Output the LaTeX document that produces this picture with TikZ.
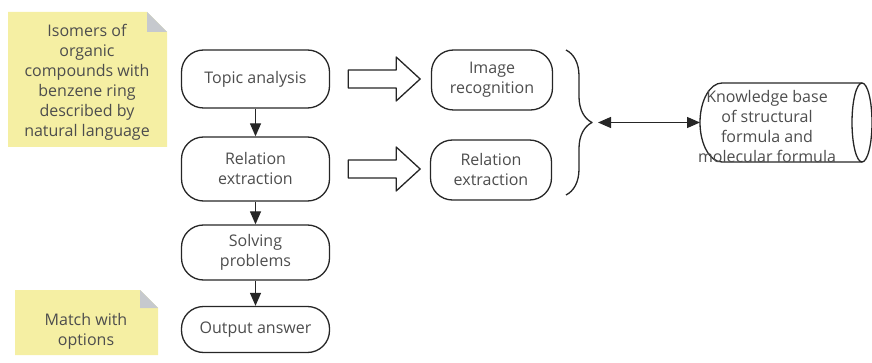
\documentclass[tikz,border=0pt]{standalone}
\usepackage{fontspec}
\setmainfont{Open Sans}
\usetikzlibrary{arrows.meta,decorations.pathreplacing,calc}
\definecolor{notey}{HTML}{F5EFA3}
\definecolor{foldgray}{HTML}{C6C9CE}
\definecolor{txtgray}{HTML}{4D4D4D}
\begin{document}
\begin{tikzpicture}[x=1pt,y=-1pt,>={Triangle[length=13pt,width=11pt]},line join=round,
	every node/.style={font=\fontsize{16}{20}\selectfont,text=txtgray,align=center},
	stepbox/.style={draw=black!85,line width=1.3pt,rounded corners=22pt,minimum width=148pt,minimum height=58pt,inner sep=2pt},
	hollow/.style={draw=black!85,line width=1.3pt,fill=white},
	flow/.style={->,draw=black!85,line width=1.3pt}]
	\useasboundingbox (0,0) rectangle (872,363);
	% notes
	\fill[notey] (8,12) -- (147,12) -- (167,32) -- (167,147) -- (8,147) -- cycle;
	\fill[foldgray] (147,12) -- (167,32) -- (147,32) -- cycle;
	\node (isomers) at (87,82) {Isomers of\\organic\\compounds with\\benzene ring\\described by\\natural language};
	\fill[notey] (15,290) -- (140,290) -- (158,308) -- (158,355) -- (15,355) -- cycle;
	\fill[foldgray] (140,290) -- (158,308) -- (140,308) -- cycle;
	\node (match) at (86,331) {Match with\\options};
	% main flow
	\node[stepbox] (topic) at (255.5,79) {Topic analysis};
	\node[stepbox,minimum height=64pt] (relation) at (255.5,169) {Relation\\extraction};
	\node[stepbox,minimum height=55pt] (solving) at (255.5,252.5) {Solving\\problems};
	\node[stepbox,minimum height=46pt] (output) at (255.5,329.5) {Output answer};
	\draw[flow] (topic) -- (relation);
	\draw[flow] (relation) -- (solving);
	\draw[flow] (solving) -- (output);
	% right column
	\node[stepbox,minimum width=121pt,minimum height=60pt] (image) at (492,80) {Image\\recognition};
	\node[stepbox,minimum width=121pt,minimum height=60pt] (relation2) at (491,170) {Relation\\extraction};
	\draw[hollow] ($(topic.east)+(18,-9)$) -- ++(48,0) -- ++(0,-13) -- ++(24,22) -- ++(-24,22) -- ++(0,-13) -- ++(-48,0) -- cycle;
	\draw[hollow] ($(relation.east)+(18,-9)$) -- ++(48,0) -- ++(0,-13) -- ++(24,22) -- ++(-24,22) -- ++(0,-13) -- ++(-48,0) -- cycle;
	% brace and knowledge base
	\draw[decorate,decoration={brace,amplitude=26pt},draw=black!85,line width=1.3pt] (566,50) -- (566,195);
	\coordinate (bracetip) at (598,122.5);
	\coordinate (kbin) at (700,122.5);
	\draw[black!85,line width=1.3pt] (862,83) -- (722,83) arc[start angle=90,end angle=270,x radius=22pt,y radius=39.5pt] -- (862,162);
	\draw[black!85,line width=1.3pt] (862,122.5) ellipse [x radius=10pt,y radius=39.5pt];
	\node (kb) at (767,127) {Knowledge base\\of structural\\formula and\\molecular formula};
	\draw[flow,<->] (bracetip) -- (kbin);
\end{tikzpicture}
\end{document}
